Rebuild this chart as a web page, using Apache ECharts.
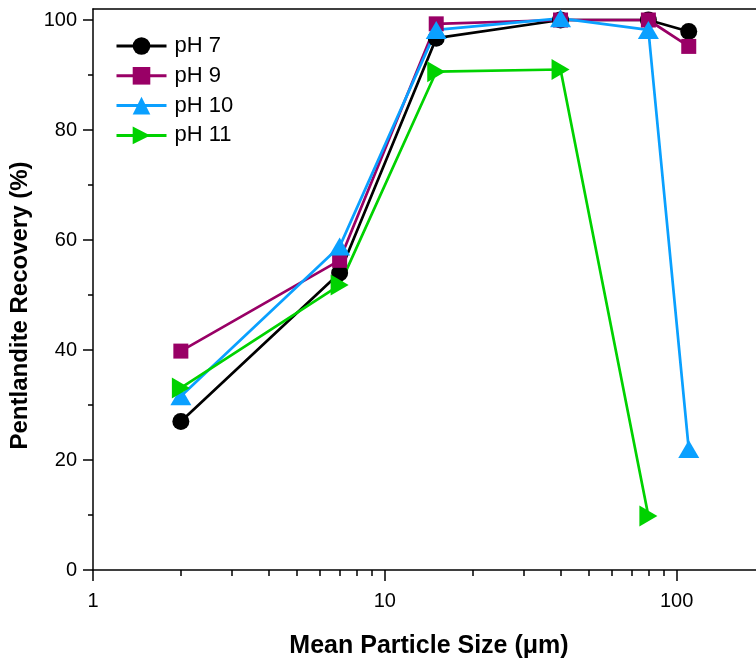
<!DOCTYPE html>
<html>
<head>
<meta charset="utf-8">
<script src="https://cdn.jsdelivr.net/npm/echarts@6/dist/echarts.min.js"></script>
<style>
html,body{margin:0;padding:0;background:#fff;}
#chart{width:756px;height:664px;}
</style>
</head>
<body>
<div id="chart"></div>
<script>
// particle sizes (µm)
const sizes = [2, 7, 15, 40, 80, 110];
const sizesPH11 = [2, 7, 15, 40, 80];
// recovery (%)
const ph7 = [27, 54, 96.7, 100, 100, 97.9];
const ph9 = [39.8, 56.3, 99.3, 100, 100, 95.2];
const ph10 = [31.6, 58.8, 98.2, 100.3, 98.2, 22];
const ph11 = [33.1, 51.8, 90.6, 91, 9.8];
// ticks
const xMajorTicks = [1, 10, 100];
const xMinorTicks = [2,3,4,5,6,7,8,9,20,30,40,50,60,70,80,90];
const yMajorTicks = [0, 20, 40, 60, 80, 100];
const yMinorTicks = [10, 30, 50, 70, 90];

const pairs = (xs, ys) => xs.map((x, i) => [x, ys[i]]);

const font = '"Liberation Sans", Arial, sans-serif';
const chart = echarts.init(document.getElementById('chart'));

const mkSeries = (name, xs, ys, color, symbol, size, rotate) => ({
  name, type: 'line', xAxisIndex: 0, yAxisIndex: 0,
  data: pairs(xs, ys),
  symbol, symbolSize: size, symbolRotate: rotate || 0,
  showAllSymbol: true,
  lineStyle: {color, width: 2.7},
  itemStyle: {color, opacity: 1},
  emphasis: {disabled: true},
  animation: false,
  z: 2
});

const X_MAX = 187;

chart.setOption({
  animation: false,
  backgroundColor: '#fff',
  grid: {left: 93, right: 0, top: 9, bottom: 90, show: false},
  legend: {
    left: 110, top: 30, orient: 'vertical',
    itemWidth: 50, itemHeight: 22, itemGap: 7.8,
    lineStyle: {width: 3},
    textStyle: {fontFamily: font, fontSize: 22, color: '#000', padding: [0,0,0,3]},
    data: ['pH 7', 'pH 9', 'pH 10', 'pH 11']
  },
  xAxis: [{
    type: 'log', logBase: 10, min: 1, max: X_MAX,
    name: 'Mean Particle Size (\u03BCm)', nameLocation: 'middle', nameGap: 64,
    nameTextStyle: {fontFamily: font, fontSize: 25, fontWeight: 'bold', color: '#000', padding: [0,0,0,9]},
    axisLine: {show: true, lineStyle: {color: '#000', width: 1.5}},
    axisTick: {show: true, inside: false, length: 11, lineStyle: {color: '#000', width: 1.5}, customValues: xMajorTicks},
    axisLabel: {fontFamily: font, fontSize: 20, color: '#000', margin: 21, customValues: xMajorTicks},
    splitLine: {show: false}, minorTick: {show: false}
  }, {
    type: 'log', logBase: 10, min: 1, max: X_MAX, position: 'bottom',
    axisLine: {show: false},
    axisTick: {show: true, inside: false, length: 6, lineStyle: {color: '#000', width: 1.5}, customValues: xMinorTicks},
    axisLabel: {show: false},
    splitLine: {show: false}
  }, {
    type: 'log', logBase: 10, min: 1, max: X_MAX, position: 'top',
    axisLine: {show: true, lineStyle: {color: '#000', width: 1.5}},
    axisTick: {show: false},
    axisLabel: {show: false},
    splitLine: {show: false}
  }],
  yAxis: [{
    type: 'value', min: 0, max: 102, position: 'left',
    name: 'Pentlandite Recovery (%)', nameLocation: 'middle', nameGap: 60,
    nameTextStyle: {fontFamily: font, fontSize: 24, fontWeight: 'bold', color: '#000', padding: [0,32,0,0]},
    axisLine: {show: true, lineStyle: {color: '#000', width: 1.5}},
    axisTick: {show: true, inside: false, length: 10, lineStyle: {color: '#000', width: 1.5}, customValues: yMajorTicks},
    axisLabel: {fontFamily: font, fontSize: 20, color: '#000', margin: 16, customValues: yMajorTicks},
    splitLine: {show: false}
  }, {
    type: 'value', min: 0, max: 102, position: 'left', offset: 0,
    axisLine: {show: false},
    axisTick: {show: true, inside: false, length: 5, lineStyle: {color: '#000', width: 1.5}, customValues: yMinorTicks},
    axisLabel: {show: false},
    splitLine: {show: false}
  }],
  series: [
    mkSeries('pH 7', sizes, ph7, '#000000', 'circle', 17),
    mkSeries('pH 9', sizes, ph9, '#990066', 'rect', 15),
    mkSeries('pH 10', sizes, ph10, '#0AA0FF', 'triangle', [21, 18]),
    mkSeries('pH 11', sizesPH11, ph11, '#00D200', 'triangle', [21, 18], -90)
  ]
});
</script>
</body>
</html>
